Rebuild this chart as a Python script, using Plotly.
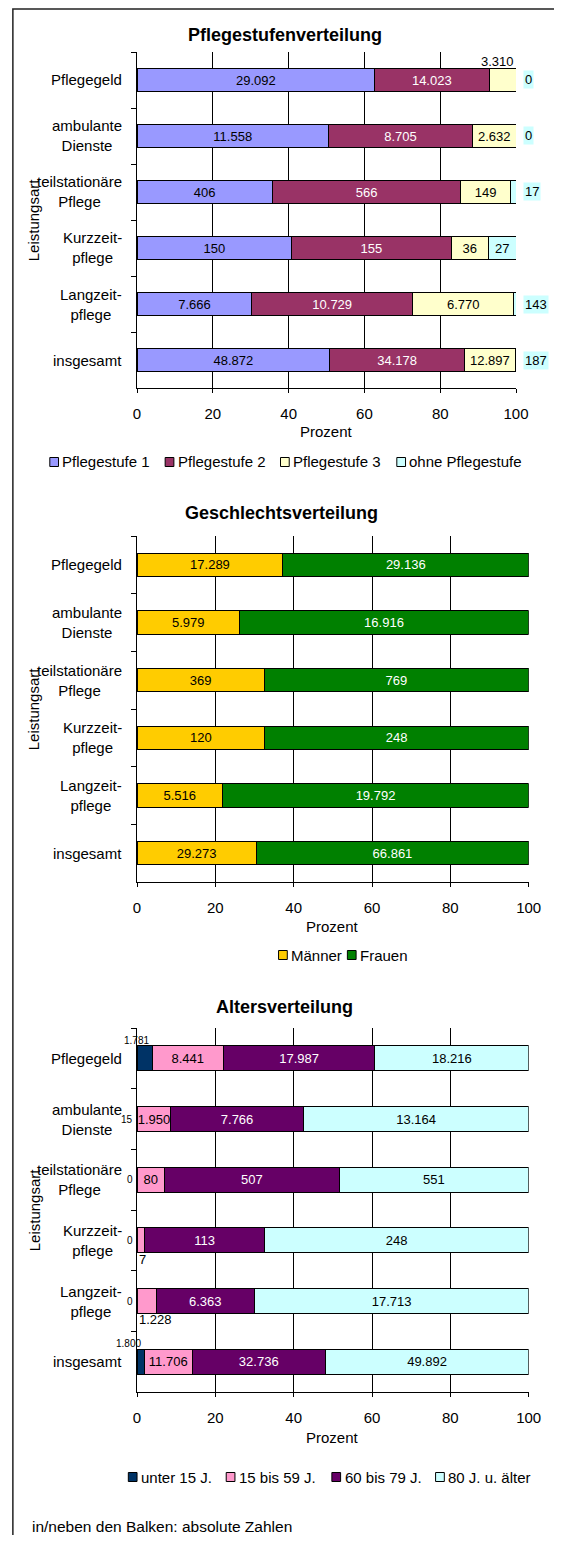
import plotly.graph_objects as go

W, H = 562, 1543          # browser window / reference size
OFF = 8                   # default page margin around the plot div
FIG_W, FIG_H = W - OFF, H - 2 * OFF
FONT = "Liberation Sans, Arial, sans-serif"

# ---------------- data ----------------
categories = ["Pflegegeld", "ambulante Dienste", "teilstationäre Pflege",
              "Kurzzeitpflege", "Langzeitpflege", "insgesamt"]
category_labels = ["Pflegegeld", "ambulante<br>Dienste", "teilstationäre<br>Pflege",
                   "Kurzzeit-<br>pflege", "Langzeit-<br>pflege", "insgesamt"]

stufe_names = ["Pflegestufe 1", "Pflegestufe 2", "Pflegestufe 3", "ohne Pflegestufe"]
stufe_1 = [29092, 11558, 406, 150, 7666, 48872]
stufe_2 = [14023, 8705, 566, 155, 10729, 34178]
stufe_3 = [3310, 2632, 149, 36, 6770, 12897]
stufe_ohne = [0, 0, 17, 27, 143, 187]

geschlecht_names = ["Männer", "Frauen"]
maenner = [17289, 5979, 369, 120, 5516, 29273]
frauen = [29136, 16916, 769, 248, 19792, 66861]

alter_names = ["unter 15 J.", "15 bis 59 J.", "60 bis 79 J.", "80 J. u. älter"]
alter_u15 = [1781, 15, 0, 0, 0, 1800]
alter_15_59 = [8441, 1950, 80, 7, 1228, 11706]
alter_60_79 = [17987, 7766, 507, 113, 6363, 32736]
alter_80 = [18216, 13164, 551, 248, 17713, 49892]

tick_values = [0, 20, 40, 60, 80, 100]
titles = ["Pflegestufenverteilung", "Geschlechtsverteilung", "Altersverteilung"]
axis_title_x = "Prozent"
axis_title_y = "Leistungsart"
footer = "in/neben den Balken: absolute Zahlen"

# ---------------- styling / layout config (screen pixels) ----------------
panels = [
    dict(names=stufe_names, series=[stufe_1, stufe_2, stufe_3, stufe_ohne],
         colors=["#9999FF", "#993366", "#FFFFCC", "#CCFFFF"],
         textcolors=["#000", "#fff", "#000", "#000"],
         left=137, right=528, top=52, bottom=388, title_y=35, title_x=290,
         prozent_y=432, legend_y=462, legend_x=[47, 166, 285, 405]),
    dict(names=geschlecht_names, series=[maenner, frauen],
         colors=["#FFCC00", "#008000"], textcolors=["#000", "#fff"],
         left=137, right=541, top=536, bottom=882, title_y=513, title_x=286,
         prozent_y=926, legend_y=955, legend_x=[283, 354]),
    dict(names=alter_names, series=[alter_u15, alter_15_59, alter_60_79, alter_80],
         colors=["#003366", "#FF99CC", "#660066", "#CCFFFF"],
         textcolors=["#fff", "#000", "#fff", "#000"],
         left=137, right=541, top=1028, bottom=1392, title_y=1007, title_x=289,
         prozent_y=1437, legend_y=1477, legend_x=[128, 229, 338, 445]),
]
BAR_WIDTH = 0.41

# labels that were placed outside the bars: (panel, series, category) -> placement
special = {
    (0, 2, 0): "above_end",
    (0, 3, 0): "right_box", (0, 3, 1): "right_box", (0, 3, 2): "right_box",
    (0, 3, 4): "right_box", (0, 3, 5): "right_box",
    (2, 0, 0): "above_small", (2, 0, 1): "left_small", (2, 0, 2): "left_small",
    (2, 0, 3): "left_small", (2, 0, 4): "left_small", (2, 0, 5): "above_small",
    (2, 1, 3): "below", (2, 1, 4): "below",
}


def fmt(v):
    return f"{v:,}".replace(",", ".")


def px_x(v):
    return (v - OFF) / FIG_W


def px_y(v):
    return 1 - (v - OFF) / FIG_H


fig = go.Figure()
annotations = []
shapes = []
layout = {}

for i, p in enumerate(panels):
    xa = "x" if i == 0 else f"x{i + 1}"
    ya = "y" if i == 0 else f"y{i + 1}"
    xkey = "xaxis" if i == 0 else f"xaxis{i + 1}"
    ykey = "yaxis" if i == 0 else f"yaxis{i + 1}"
    totals = [sum(s[k] for s in p["series"]) for k in range(len(categories))]
    cat_px = (p["bottom"] - p["top"]) / len(categories)
    half = BAR_WIDTH * cat_px / 2

    for j, s in enumerate(p["series"]):
        pct = [v / t * 100 for v, t in zip(s, totals)]
        texts = ["" if (i, j, k) in special else fmt(v) for k, v in enumerate(s)]
        fig.add_trace(go.Bar(
            x=pct, y=categories, orientation="h", name=p["names"][j],
            xaxis=xa, yaxis=ya,
            marker=dict(color=p["colors"][j], line=dict(color="#000", width=1)),
            text=texts, textposition="inside", insidetextanchor="middle",
            textangle=0, constraintext="none",
            textfont=dict(family=FONT, size=13, color=p["textcolors"][j]),
            hoverinfo="skip", showlegend=False,
        ))
        cum_start = [sum(p["series"][q][k] for q in range(j)) / totals[k] * 100
                     for k in range(len(categories))]
        for k, v in enumerate(s):
            mode = special.get((i, j, k))
            if mode is None:
                continue
            seg_end = cum_start[k] + pct[k]
            base = dict(text=fmt(v), xref=xa, yref=ya, y=categories[k],
                        showarrow=False, font=dict(family=FONT, size=13, color="#000"))
            if mode == "above_end":
                base.update(x=seg_end, xanchor="right", yanchor="bottom", yshift=half - 2)
            elif mode == "right_box":
                base.update(x=100, xanchor="left", xshift=7, bgcolor=p["colors"][j])
            elif mode == "above_small":
                base.update(x=seg_end, xanchor="right", yanchor="bottom", yshift=half - 2,
                            xshift=-1, font=dict(family=FONT, size=10, color="#000"))
            elif mode == "left_small":
                base.update(x=0, xanchor="right", xshift=-2,
                            font=dict(family=FONT, size=10, color="#000"))
            elif mode == "below":
                base.update(x=0, xanchor="left", yanchor="top", yshift=-half + 3)
            annotations.append(base)

    layout[xkey] = dict(
        domain=[px_x(p["left"]), px_x(p["right"])], anchor=ya, range=[0, 100],
        tickvals=tick_values, showgrid=True, gridcolor="#000", gridwidth=1,
        showline=True, linecolor="#000", linewidth=1, ticks="outside", ticklen=4,
        tickcolor="#000", zeroline=False, ticklabelstandoff=8,
        tickfont=dict(family=FONT, size=15, color="#000"), fixedrange=True,
    )
    layout[ykey] = dict(
        domain=[px_y(p["bottom"]), px_y(p["top"])], anchor=xa, type="category",
        categoryorder="array", categoryarray=categories, autorange="reversed",
        showline=True, linecolor="#000", linewidth=1, ticks="outside", ticklen=5,
        tickcolor="#000", tickson="boundaries", showticklabels=False,
        showgrid=False, zeroline=False, fixedrange=True,
    )

    for k, lab in enumerate(category_labels):
        annotations.append(dict(text=lab, xref="paper", yref=ya, y=categories[k],
                                x=px_x(124), xanchor="right", align="center",
                                showarrow=False,
                                font=dict(family=FONT, size=15, color="#000")))
    annotations.append(dict(text=f"<b>{titles[i]}</b>", xref="paper", yref="paper",
                            x=px_x(p["title_x"]), y=px_y(p["title_y"]),
                            xanchor="center", yanchor="middle", showarrow=False,
                            font=dict(family=FONT, size=18, color="#000")))
    annotations.append(dict(text=axis_title_x, xref="paper", yref="paper",
                            x=px_x((p["left"] + p["right"]) / 2), y=px_y(p["prozent_y"]),
                            xanchor="center", yanchor="middle", showarrow=False,
                            font=dict(family=FONT, size=15, color="#000")))
    annotations.append(dict(text=axis_title_y, xref="paper", yref="paper",
                            x=px_x(31), y=px_y((p["top"] + p["bottom"]) / 2),
                            xanchor="center", yanchor="middle", textangle=-90,
                            showarrow=False,
                            font=dict(family=FONT, size=15, color="#000")))
    for j, name in enumerate(p["names"]):
        bx = p["legend_x"][j]
        by = p["legend_y"]
        shapes.append(dict(type="rect", xref="paper", yref="paper",
                           x0=px_x(bx), x1=px_x(bx + 9), y0=px_y(by + 4.5), y1=px_y(by - 4.5),
                           fillcolor=p["colors"][j], line=dict(color="#000", width=1)))
        annotations.append(dict(text=name, xref="paper", yref="paper",
                                x=px_x(bx + 11), y=px_y(by), xanchor="left",
                                yanchor="middle", showarrow=False,
                                font=dict(family=FONT, size=15, color="#000")))

annotations.append(dict(text=footer, xref="paper", yref="paper", x=px_x(27),
                        y=px_y(1526), xanchor="left", yanchor="middle", showarrow=False,
                        font=dict(family=FONT, size=15.5, color="#000")))

# outer frame (as close to the page corner as the page margin allows)
shapes.append(dict(type="rect", xref="paper", yref="paper", x0=px_x(8.9), y0=-0.05,
                   x1=1.05, y1=px_y(8.9), line=dict(color="#222", width=1.5)))

fig.update_layout(
    width=FIG_W, height=FIG_H, margin=dict(l=0, r=0, t=0, b=0),
    paper_bgcolor="#fff", plot_bgcolor="#fff",
    barmode="stack", bargap=1 - BAR_WIDTH, showlegend=False,
    font=dict(family=FONT, size=15, color="#000"),
    annotations=annotations, shapes=shapes,
    **layout,
)

fig.write_html("out.html")
